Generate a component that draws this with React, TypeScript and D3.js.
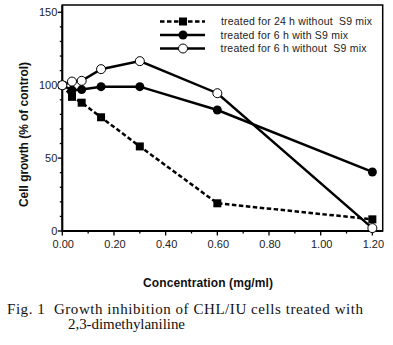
import React from "react";
import * as d3 from "d3";

const concentrations = [0, 0.0375, 0.075, 0.15, 0.3, 0.6, 1.2];
const series24hNoS9 = [100, 92, 88, 78, 58, 19, 8];
const series6hS9 = [100, 96.5, 97, 99, 99, 83, 40.5];
const series6hNoS9 = [100, 102.5, 103, 111, 116.5, 94.5, 2];
const legendLabels = [
  "treated for 24 h without  S9 mix",
  "treated for 6 h with S9 mix",
  "treated for 6 h without  S9 mix",
];
const xTicks = [0, 0.2, 0.4, 0.6, 0.8, 1.0, 1.2];
const xMinorTicks = [0.1, 0.3, 0.5, 0.7, 0.9, 1.1];
const yTicks = [0, 50, 100, 150];
const yMinorTicks = [10, 20, 30, 40, 60, 70, 80, 90, 110, 120, 130, 140];
const xTitle = "Concentration (mg/ml)";
const yTitle = "Cell growth (% of control)";
const caption1 = "Fig. 1  Growth inhibition of CHL/IU cells treated with";
const caption2 = "2,3-dimethylaniline";

export default function App() {
  const left = 62.3, right = 382.7, top = 5, bottom = 231;
  const x = d3.scaleLinear().domain([0, 1.24]).range([left, right]);
  const y = d3.scaleLinear().domain([0, 155]).range([bottom, top]);
  const line = d3
    .line<[number, number]>()
    .x((d) => x(d[0]))
    .y((d) => y(d[1]));
  const pts = (vals: number[]) =>
    concentrations.map((c, i) => [c, vals[i]] as [number, number]);
  const sans = "Arial, 'Liberation Sans', sans-serif";
  const serif = "'Liberation Serif', 'Times New Roman', serif";
  const legendY = [21.5, 35, 48.5];
  const legendX = [221, 220.5, 220.5];
  const legendLen = [151, 127.5, 146];
  const lx0 = 160, lx1 = 205, lm = 183;

  return (
    <div style={{ position: "absolute", left: 0, top: 0 }}>
      <svg width={393} height={345} style={{ display: "block", background: "#fff" }}>
        <rect x={0} y={0} width={393} height={345} fill="#fff" />
        {/* frame */}
        <rect x={left} y={top} width={right - left} height={bottom - top} fill="none" stroke="#000" strokeWidth={1.5} />
        <line x1={left} x2={left} y1={top} y2={bottom} stroke="#000" strokeWidth={2} />
        <line x1={left} x2={right} y1={bottom} y2={bottom} stroke="#000" strokeWidth={2} />
        {/* y ticks */}
        {yTicks.map((t) => (
          <g key={"yt" + t}>
            <line x1={left - 4.5} x2={left} y1={y(t)} y2={y(t)} stroke="#000" strokeWidth={1.3} />
            <text x={left - 5} y={y(t)} dy="0.35em" textAnchor="end" fontFamily={sans} fontSize={11} fill="#222">
              {t}
            </text>
          </g>
        ))}
        {yMinorTicks.map((t) => (
          <line key={"ym" + t} x1={left - 2.5} x2={left} y1={y(t)} y2={y(t)} stroke="#000" strokeWidth={1.3} />
        ))}
        {/* x ticks */}
        {xTicks.map((t) => (
          <g key={"xt" + t}>
            <line x1={x(t)} x2={x(t)} y1={bottom} y2={bottom + 4.5} stroke="#000" strokeWidth={1.3} />
            <text x={x(t) + 1} y={bottom + 13} dy="0.35em" textAnchor="middle" fontFamily={sans} fontSize={11} fill="#222">
              {t.toFixed(2)}
            </text>
          </g>
        ))}
        {xMinorTicks.map((t) => (
          <line key={"xm" + t} x1={x(t)} x2={x(t)} y1={bottom} y2={bottom + 2.5} stroke="#000" strokeWidth={1.3} />
        ))}
        {/* axis titles */}
        <text x={143} y={283} dy="0.35em" fontFamily={sans} fontSize={12} fontWeight="bold" fill="#111" textLength={130} lengthAdjust="spacing">
          {xTitle}
        </text>
        <text
          transform={`translate(24,207) rotate(-90)`}
          dy="0.35em"
          fontFamily={sans}
          fontSize={12}
          fontWeight="bold"
          fill="#111"
          textLength={145}
          lengthAdjust="spacing"
        >
          {yTitle}
        </text>
        {/* series 1: dashed, squares */}
        <path d={line(pts(series24hNoS9)) || ""} fill="none" stroke="#000" strokeWidth={2.5} strokeDasharray="4.5,2.5" />
        {pts(series24hNoS9).map((p, i) => (
          <rect key={"s1" + i} x={x(p[0]) - 4} y={y(p[1]) - 4} width={8} height={8} fill="#000" />
        ))}
        {/* series 2: solid, filled circles */}
        <path d={line(pts(series6hS9)) || ""} fill="none" stroke="#000" strokeWidth={2.5} />
        {pts(series6hS9).map((p, i) => (
          <circle key={"s2" + i} cx={x(p[0])} cy={y(p[1])} r={4.5} fill="#000" />
        ))}
        {/* series 3: solid, open circles */}
        <path d={line(pts(series6hNoS9)) || ""} fill="none" stroke="#000" strokeWidth={2.5} />
        {pts(series6hNoS9).map((p, i) => (
          <circle key={"s3" + i} cx={x(p[0])} cy={y(p[1])} r={4.5} fill="#fff" stroke="#000" strokeWidth={1} />
        ))}
        {/* legend */}
        <line x1={lx0} x2={lx1} y1={legendY[0]} y2={legendY[0]} stroke="#000" strokeWidth={2.5} strokeDasharray="4.5,2.5" />
        <rect x={lm - 4} y={legendY[0] - 4} width={8} height={8} fill="#000" />
        <line x1={lx0} x2={lx1} y1={legendY[1]} y2={legendY[1]} stroke="#000" strokeWidth={2.5} />
        <circle cx={lm} cy={legendY[1]} r={4.5} fill="#000" />
        <line x1={lx0} x2={lx1} y1={legendY[2]} y2={legendY[2]} stroke="#000" strokeWidth={2.5} />
        <circle cx={lm} cy={legendY[2]} r={4.5} fill="#fff" stroke="#000" strokeWidth={1} />
        {legendLabels.map((l, i) => (
          <text key={"lg" + i} x={legendX[i]} y={legendY[i]} dy="0.35em" fontFamily={sans} fontSize={10.5} fill="#222" textLength={legendLen[i]} lengthAdjust="spacing" style={{ whiteSpace: "pre" }}>
            {l}
          </text>
        ))}
        {/* caption */}
        <text x={7} y={314} fontFamily={serif} fontSize={15} fill="#111" textLength={356} lengthAdjust="spacing" style={{ whiteSpace: "pre" }}>
          {caption1}
        </text>
        <text x={68} y={329} fontFamily={serif} fontSize={15} fill="#111" textLength={117} lengthAdjust="spacing">
          {caption2}
        </text>
      </svg>
    </div>
  );
}
